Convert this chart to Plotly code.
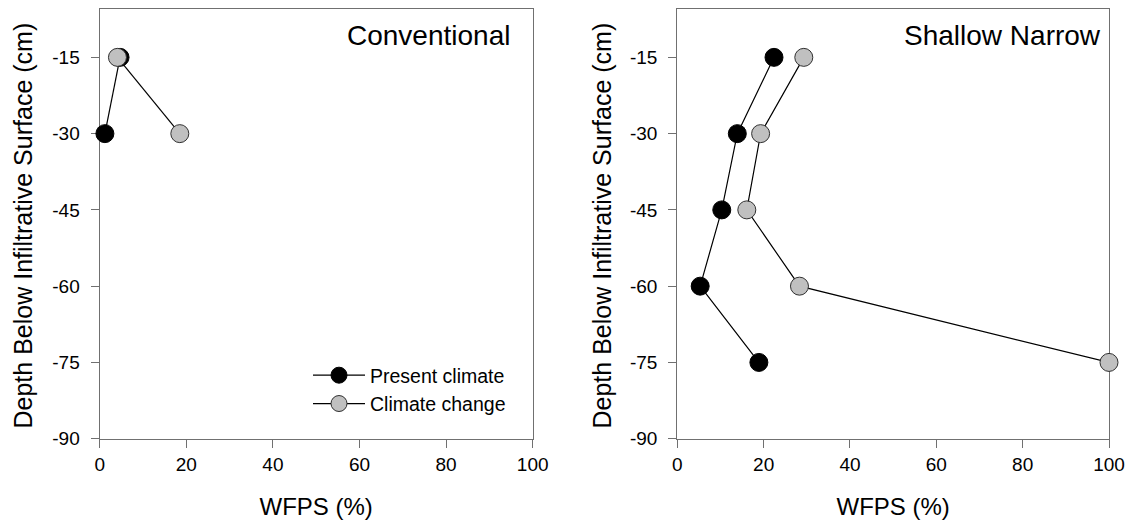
import plotly.graph_objects as go

# Data
depth = [-15, -30, -45, -60, -75]

conv_present_wfps = [4.7, 1.2]
conv_present_depth = [-15, -30]
conv_change_wfps = [4.1, 18.5]
conv_change_depth = [-15, -30]

sn_present_wfps = [22.4, 13.9, 10.3, 5.3, 18.9]
sn_change_wfps = [29.3, 19.3, 16.1, 28.3, 100.0]

x_ticks = [0, 20, 40, 60, 80, 100]
x_tick_labels = ["0", "20", "40", "60", "80", "100"]
y_ticks = [-15, -30, -45, -60, -75, -90]
y_tick_labels = ["-15", "-30", "-45", "-60", "-75", "-90"]

panel_titles = ["Conventional", "Shallow Narrow"]
series_names = ["Present climate", "Climate change"]
x_title = "WFPS (%)"
y_title = "Depth Below Infiltrative Surface (cm)"

OFF = 8                      # page body margin
FW, FH = 1143 - OFF, 525 - OFF
FONT = "Liberation Sans, Arial, sans-serif"
AX = "#707070"

def px_x(p):
    return (p - OFF) / FW

def px_y(p):
    return min(1.0, (FH - (p - OFF)) / FH)

fig = go.Figure()

mk_present = dict(size=18, color="black", line=dict(color="black", width=1))
mk_change = dict(size=18, color="#c0c0c0", line=dict(color="#303030", width=1))
ln = dict(color="black", width=1.2)

fig.add_trace(go.Scatter(x=conv_present_wfps, y=conv_present_depth, mode="lines+markers",
                         name=series_names[0], marker=mk_present, line=ln,
                         xaxis="x", yaxis="y", cliponaxis=False))
fig.add_trace(go.Scatter(x=conv_change_wfps, y=conv_change_depth, mode="lines+markers",
                         name=series_names[1], marker=mk_change, line=ln,
                         xaxis="x", yaxis="y", cliponaxis=False))
fig.add_trace(go.Scatter(x=sn_present_wfps, y=depth, mode="lines+markers",
                         name=series_names[0], marker=mk_present, line=ln, showlegend=False,
                         xaxis="x2", yaxis="y2", cliponaxis=False))
fig.add_trace(go.Scatter(x=sn_change_wfps, y=depth, mode="lines+markers",
                         name=series_names[1], marker=mk_change, line=ln, showlegend=False,
                         xaxis="x2", yaxis="y2", cliponaxis=False))

ydom = [px_y(438.7), px_y(8.8)]
y_range = [-90, -5.45]
xdom1 = [px_x(99.7), px_x(532.7)]
xdom2 = [px_x(677.3), px_x(1109.0)]

def xax(dom, anchor):
    return dict(domain=dom, anchor=anchor, range=[0, 100],
                tickvals=x_ticks, ticktext=x_tick_labels,
                showline=True, linecolor=AX, linewidth=1.3, mirror=True,
                ticks="outside", ticklen=8, tickcolor=AX, tickwidth=1.3,
                showgrid=False, zeroline=False, layer="below traces",
                tickfont=dict(size=19, color="black", family=FONT),
                title=dict(text=x_title, font=dict(size=24, color="black", family=FONT), standoff=24),
                automargin=False)

def yax(anchor):
    return dict(domain=ydom, anchor=anchor, range=y_range,
                tickvals=y_ticks, ticktext=y_tick_labels,
                showline=True, linecolor=AX, linewidth=1.3, mirror=True,
                ticks="outside", ticklen=8, tickcolor=AX, tickwidth=1.3,
                ticklabelstandoff=7,
                showgrid=False, zeroline=False, layer="below traces",
                tickfont=dict(size=19, color="black", family=FONT),
                automargin=False)

fig.update_layout(
    width=FW, height=FH,
    margin=dict(l=0, r=0, t=0, b=0),
    paper_bgcolor="white", plot_bgcolor="white",
    font=dict(family=FONT, color="black"),
    xaxis=xax(xdom1, "y"), yaxis=yax("x"),
    xaxis2=xax(xdom2, "y2"), yaxis2=yax("x2"),
    legend=dict(x=px_x(308), y=px_y(356), xanchor="left", yanchor="top",
                bgcolor="rgba(0,0,0,0)", font=dict(size=19.5, family=FONT, color="black"),
                tracegroupgap=0, itemwidth=52),
    showlegend=True,
)

for xc in (22.5, 601.5):
    fig.add_annotation(text=y_title, xref="paper", yref="paper", x=px_x(xc), y=px_y(226),
                       xanchor="center", yanchor="middle", textangle=-90, showarrow=False,
                       font=dict(size=25, family=FONT, color="black"))

fig.add_annotation(text=panel_titles[0], xref="paper", yref="paper", x=px_x(512), y=px_y(35),
                   xanchor="right", yanchor="middle", showarrow=False,
                   font=dict(size=28, family=FONT, color="black"))
fig.add_annotation(text=panel_titles[1], xref="paper", yref="paper", x=px_x(1103), y=px_y(35),
                   xanchor="right", yanchor="middle", showarrow=False,
                   font=dict(size=28, family=FONT, color="black"))

fig.write_html("out.html")
